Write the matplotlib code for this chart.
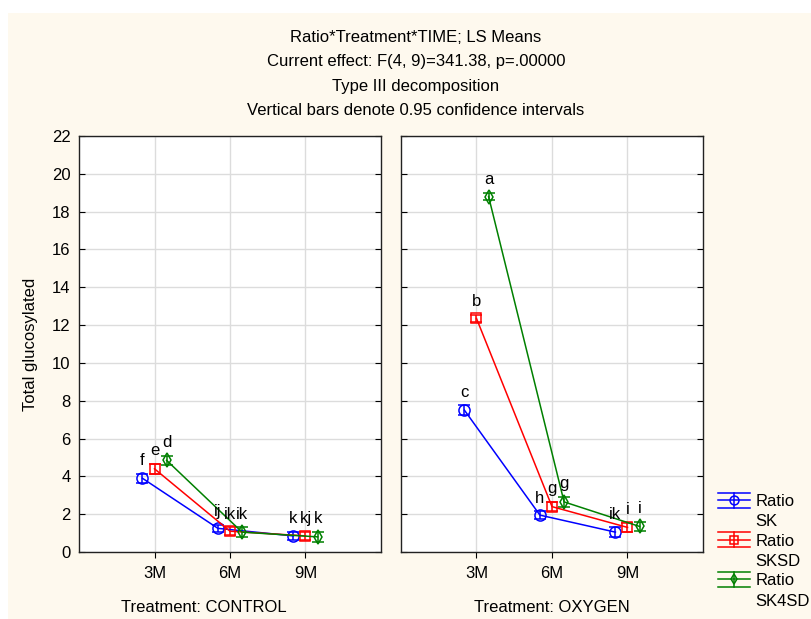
import matplotlib
matplotlib.use("Agg")
import matplotlib.pyplot as plt
from matplotlib.patches import Rectangle
from matplotlib.lines import Line2D
import numpy as np

plt.rcParams['font.family'] = ['Liberation Sans', 'DejaVu Sans']
FS = 12

times = ["3M", "6M", "9M"]
series = ["Ratio\nSK", "Ratio\nSKSD", "Ratio\nSK4SD"]
colors = ["#0000ff", "#ff0000", "#008000"]
markers = ["o", "s", "d"]
msizes = [8, 7.5, 7]

control_means = [[3.9, 1.25, 0.85], [4.4, 1.1, 0.85], [4.85, 1.05, 0.8]]
control_err = [[0.25, 0.2, 0.2], [0.25, 0.2, 0.2], [0.25, 0.25, 0.25]]
control_letters = [["f", "ij", "k"], ["e", "ik", "kj"], ["d", "ik", "k"]]

oxygen_means = [[7.5, 1.95, 1.05], [12.35, 2.4, 1.3], [18.8, 2.65, 1.35]]
oxygen_err = [[0.25, 0.2, 0.25], [0.2, 0.25, 0.25], [0.2, 0.25, 0.25]]
oxygen_letters = [["c", "h", "ik"], ["b", "g", "i"], ["a", "g", "i"]]

panels = [("Treatment: CONTROL", control_means, control_err, control_letters),
          ("Treatment: OXYGEN", oxygen_means, oxygen_err, oxygen_letters)]


class ErrHandler:
    def __init__(self, color, marker, ms):
        self.color, self.marker, self.ms = color, marker, ms

    def legend_artist(self, legend, orig_handle, fontsize, handlebox):
        x0, y0 = handlebox.xdescent, handlebox.ydescent
        w, h = handlebox.width, handlebox.height
        shift = 0.7 * fontsize
        yc = y0 + h / 2 + shift
        dy = 5.5
        arts = [
            Line2D([x0, x0 + w], [yc, yc], color=self.color, lw=1.1),
            Line2D([x0, x0 + w], [yc + dy, yc + dy], color=self.color, lw=1.1),
            Line2D([x0, x0 + w], [yc - dy, yc - dy], color=self.color, lw=1.1),
            Line2D([x0 + w / 2, x0 + w / 2], [yc - dy, yc + dy], color=self.color, lw=1.1),
            Line2D([x0 + w / 2], [yc], color=self.color, marker=self.marker, ms=self.ms * 0.8,
                   mfc="none", mew=1.1, lw=0),
        ]
        for a in arts:
            handlebox.add_artist(a)
        return arts[0]


W, H = 812, 619
fig = plt.figure(figsize=(W / 100, H / 100), dpi=100, facecolor="white")
fig.patches.append(Rectangle((8 / W, 0), 1 - 8 / W, 1 - 13 / H, transform=fig.transFigure,
                             facecolor="#fef9ee", edgecolor="none", zorder=-10))

ax_boxes = [(79, 381), (401, 703)]
top, bottom = 136, 552
offsets = [-0.16, 0.0, 0.16]
xlab_centers = [204, 552]
handles = []
for pi, ((title, means, errs, letters), (x0, x1)) in enumerate(zip(panels, ax_boxes)):
    ax = fig.add_axes([x0 / W, 1 - bottom / H, (x1 - x0) / W, (bottom - top) / H])
    ax.set_facecolor("white")
    ax.set_xlim(0, 4)
    ax.set_ylim(0, 22)
    ax.set_yticks(np.arange(0, 23, 2))
    ax.set_xticks([1, 2, 3])
    ax.set_xticklabels(times, fontsize=FS)
    ax.grid(True, color="#dcdcdc", linewidth=1.0)
    ax.set_axisbelow(True)
    ax.tick_params(axis="y", direction="in", length=4, left=True, right=True, labelsize=FS, pad=6)
    ax.tick_params(axis="x", direction="out", length=4, labelsize=FS, pad=6)
    if pi == 0:
        ax.set_ylabel("Total glucosylated", fontsize=FS, labelpad=10)
    else:
        ax.tick_params(axis="y", labelleft=False)
    for sp in ax.spines.values():
        sp.set_linewidth(1.0)
        sp.set_color("#222222")
    for si in range(3):
        xs = np.array([1, 2, 3]) + offsets[si]
        h = ax.errorbar(xs, means[si], yerr=errs[si], color=colors[si], marker=markers[si],
                        markersize=msizes[si], markerfacecolor="none", markeredgewidth=1.1,
                        linewidth=1.1, capsize=4.5, capthick=1.1, elinewidth=1.1, label=series[si])
        if pi == 0:
            handles.append(h)
        for x, y, e, t in zip(xs, means[si], errs[si], letters[si]):
            ax.text(x, y + e + 0.3, t, ha="center", va="bottom", fontsize=FS)
    fig.text(xlab_centers[pi] / W, 1 - 607 / H, title, ha="center", va="center", fontsize=FS)

titles = ["Ratio*Treatment*TIME; LS Means",
          "Current effect: F(4, 9)=341.38, p=.00000",
          "Type III decomposition",
          "Vertical bars denote 0.95 confidence intervals"]
for i, t in enumerate(titles):
    fig.text(416 / W, 1 - (37 + i * 24.5) / H, t, ha="center", va="center", fontsize=FS)

hmap = {handles[i]: ErrHandler(colors[i], markers[i], msizes[i]) for i in range(3)}
leg = fig.legend(handles=handles, labels=series, loc="upper left",
                 bbox_to_anchor=(718 / W, 1 - 494 / H), frameon=False, fontsize=FS,
                 handlelength=1.9, labelspacing=0.25, handletextpad=0.35, borderaxespad=0,
                 borderpad=0, handler_map=hmap)
for t in leg.get_texts():
    t.set_linespacing(1.45)

fig.savefig("out.png", dpi=100, facecolor="white")
